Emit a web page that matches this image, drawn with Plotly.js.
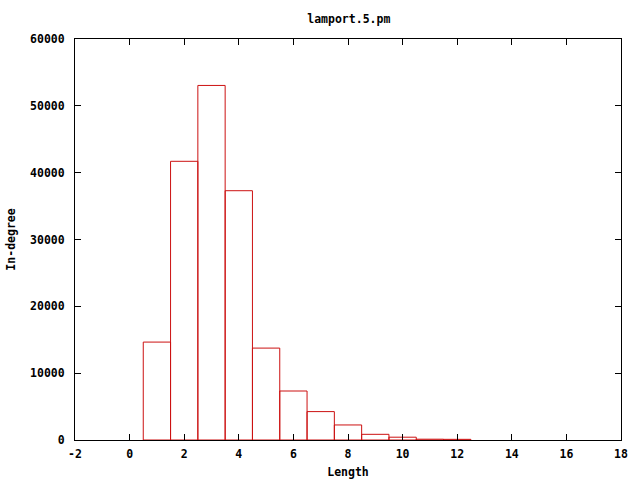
<!DOCTYPE html>
<html><head><meta charset="utf-8">
<script src="https://cdn.plot.ly/plotly-3.0.1.min.js"></script>
<style>body{margin:0;background:#fff}#c{width:640px;height:480px}</style>
</head><body><div id="c"></div>
<script>
const lengths = [1,2,3,4,5,6,7,8,9,10,11,12];
const inDegree = [14650,41700,53050,37300,13750,7330,4250,2250,850,420,120,100];
const xTicks = [-2,0,2,4,6,8,10,12,14,16,18];
const yTicks = [0,10000,20000,30000,40000,50000,60000];
const fnt = {family:'"DejaVu Sans Mono", monospace', size:11.5, color:'#000'};
Plotly.newPlot('c',[{
  type:'bar', x:lengths, y:inDegree, width:1,
  marker:{color:'rgba(0,0,0,0)', line:{color:'#cc1111', width:1}},
  hoverinfo:'none'
}],{
  width:640,height:480,
  margin:{l:75,r:19,t:39,b:40},
  paper_bgcolor:'#fff', plot_bgcolor:'#fff',
  showlegend:false, bargap:0,
  font:fnt,
  title:{text:'<b>lamport.5.pm</b>', font:fnt, x:0.545, xanchor:'center', y:0.96, yanchor:'middle'},
  xaxis:{range:[-2,18], tickvals:xTicks, ticktext:xTicks.map(v=>'<b>'+v+'</b>'), ticks:'inside', ticklen:6, tickcolor:'#000',
    ticklabelstandoff:3,
    showline:true, linecolor:'#000', linewidth:1, mirror:'ticks', showgrid:false, zeroline:false,
    title:{text:'<b>Length</b>', font:fnt, standoff:8}},
  yaxis:{range:[0,60000], tickvals:yTicks, ticktext:yTicks.map(v=>'<b>'+v+'</b>'), ticks:'inside', ticklen:6, tickcolor:'#000',
    ticklabelstandoff:7,
    showline:true, linecolor:'#000', linewidth:1, mirror:'ticks', showgrid:false, zeroline:false,
    title:{text:'<b>In-degree</b>', font:fnt, standoff:12}}
},{staticPlot:true});
</script></body></html>
